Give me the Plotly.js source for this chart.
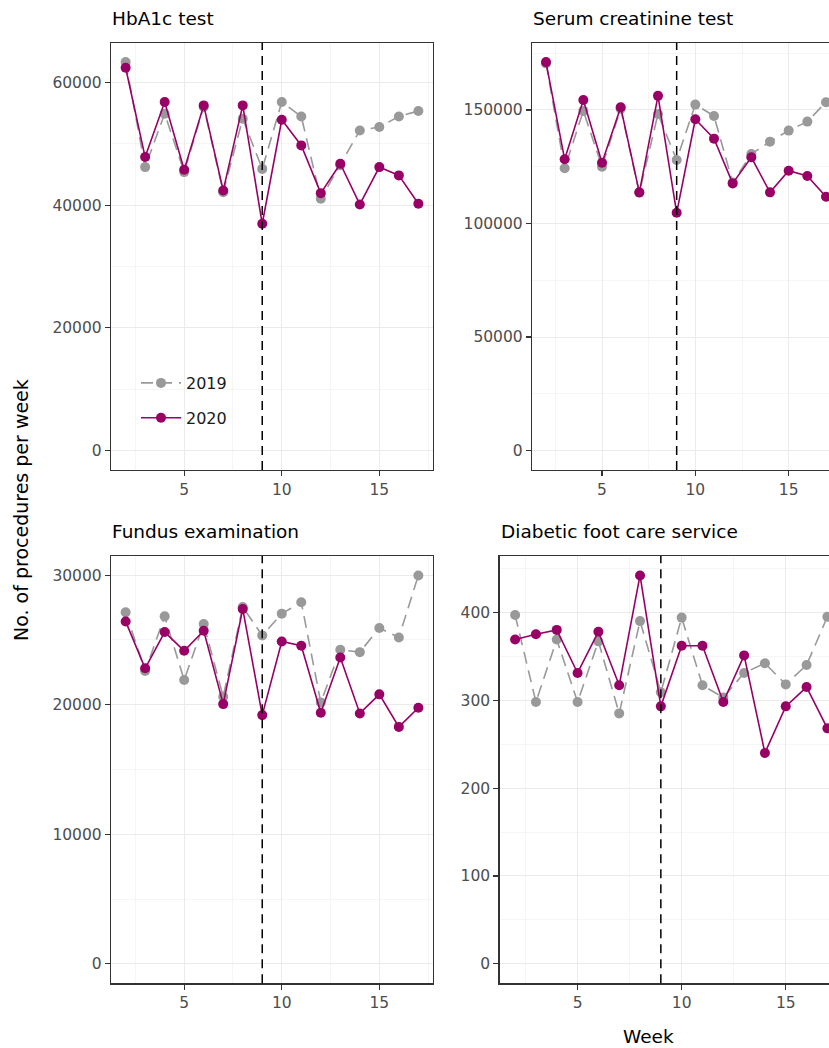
<!DOCTYPE html>
<html>
<head>
<meta charset="utf-8">
<script src="https://cdn.plot.ly/plotly-3.0.1.min.js"></script>
<style>
  html, body { margin: 0; padding: 0; overflow: hidden; background: #fff; }
  #chart { width: 900px; height: 1048px; }
</style>
</head>
<body>
<div id="chart"></div>
<script>
// ---- data ----
const weeks = [2, 3, 4, 5, 6, 7, 8, 9, 10, 11, 12, 13, 14, 15, 16, 17];
const years = ["2019", "2020"];
const panelTitles = ["HbA1c test", "Serum creatinine test", "Fundus examination", "Diabetic foot care service"];

const hba1c2019 = [63300, 46190, 54900, 45380, 56000, 42100, 54080, 45900, 56790, 54450, 41030, 46500, 52170, 52720, 54450, 55330];
const hba1c2020 = [62390, 47830, 56790, 45760, 56250, 42390, 56250, 36960, 53910, 49730, 41950, 46740, 40110, 46190, 44840, 40220];

const creat2019 = [170500, 124300, 149570, 125000, 150500, 113500, 148240, 127950, 152350, 147360, 118000, 130600, 136040, 140900, 144860, 153400];
const creat2020 = [171050, 128250, 154400, 126760, 151200, 113700, 156200, 104700, 145900, 137350, 117650, 129150, 113700, 123230, 120900, 111760];

const fundus2019 = [27130, 22610, 26820, 21910, 26230, 20620, 27540, 25350, 27030, 27910, 20180, 24240, 24060, 25920, 25190, 29980];
const fundus2020 = [26430, 22810, 25610, 24160, 25710, 20050, 27390, 19200, 24880, 24550, 19380, 23640, 19330, 20800, 18290, 19770];

const foot2019 = [397, 298, 369, 298, 367, 285, 390, 309, 394, 317, 303, 331, 342, 318, 340, 395];
const foot2020 = [369, 375, 380, 331, 378, 317, 442, 293, 362, 362, 298, 351, 240, 293, 315, 268];

const yTickStep = [20000, 50000, 10000, 100];
const cutoffWeek = 9;
const xTickLabels = [5, 10, 15];

// ---- styling / layout ----
const W = 900, H = 1048;
const FONT = "DejaVu Sans, Liberation Sans, Arial, sans-serif";
const GREY = "#999999", PURPLE = "#990066";
const TICKCOL = "#4d4d4d";

// panel pixel boxes [left, right, top, bottom]
const boxes = [
  [111, 433, 42.7, 470],
  [532, 840, 42.7, 470],
  [111, 433, 556, 983.3],
  [499.5, 843, 556, 983.3]
];

const series = [
  [hba1c2019, hba1c2020],
  [creat2019, creat2020],
  [fundus2019, fundus2020],
  [foot2019, foot2020]
];

const data = [];
const layout = {
  width: W, height: H,
  margin: {l: 0, r: 0, t: 0, b: 0},
  paper_bgcolor: "#fff", plot_bgcolor: "#fff",
  font: {family: FONT, size: 15.5, color: TICKCOL},
  showlegend: true,
  legend: {
    x: 136 / W, y: 1 - 366 / H, xanchor: "left", yanchor: "top",
    bgcolor: "rgba(255,255,255,0)", borderwidth: 0,
    font: {family: FONT, size: 16, color: "#1a1a1a"},
    itemwidth: 40, tracegroupgap: 11
  },
  shapes: [],
  annotations: []
};

const xmin = Math.min(...weeks), xmax = Math.max(...weeks);
const xpad = (xmax - xmin) * 0.05;

for (let p = 0; p < 4; p++) {
  const sfx = p === 0 ? "" : String(p + 1);
  const [l, r, t, b] = boxes[p];
  const ymax = Math.max(...series[p][0], ...series[p][1]);
  const ypad = ymax * 0.05;
  layout["xaxis" + sfx] = {
    domain: [l / W, r / W],
    anchor: "y" + sfx,
    range: [xmin - xpad, xmax + xpad],
    tickmode: "array", tickvals: xTickLabels, ticktext: xTickLabels.map(String),
    ticks: "outside", ticklen: 5, tickwidth: 1.2, tickcolor: "#333333",
    showline: true, linecolor: "#333333", linewidth: 1.2, mirror: true,
    showgrid: true, gridcolor: "#ebebeb", gridwidth: 1,
    minor: {tickmode: "array", tickvals: [2.5, 7.5, 12.5, 17.5], showgrid: true, gridcolor: "#f3f3f3", gridwidth: 0.8},
    zeroline: false,
    tickfont: {family: FONT, size: 15.5, color: TICKCOL}
  };
  layout["yaxis" + sfx] = {
    domain: [1 - b / H, 1 - t / H],
    anchor: "x" + sfx,
    range: [-ypad, ymax + ypad],
    tick0: 0, dtick: yTickStep[p], tickformat: "d",
    ticks: "outside", ticklen: 5, tickwidth: 1.2, tickcolor: "#333333",
    showline: true, linecolor: "#333333", linewidth: 1.2, mirror: true,
    showgrid: true, gridcolor: "#ebebeb", gridwidth: 1,
    minor: {dtick: yTickStep[p] / 2, showgrid: true, gridcolor: "#f3f3f3", gridwidth: 0.8},
    zeroline: false,
    tickfont: {family: FONT, size: 15.5, color: TICKCOL}
  };
  // vertical dashed cut-off line
  layout.shapes.push({
    type: "line", xref: "x" + sfx, yref: "y" + sfx + " domain",
    x0: cutoffWeek, x1: cutoffWeek, y0: 0, y1: 1,
    line: {color: "#000000", width: 1.5, dash: "9px,6px"}, layer: "above"
  });
  // panel title
  layout.annotations.push({
    text: panelTitles[p], xref: "paper", yref: "paper",
    x: (l - 1) / W, y: 1 - (t - 12) / H, xanchor: "left", yanchor: "bottom",
    showarrow: false, font: {family: FONT, size: 18.5, color: "#000000"}
  });
  // traces
  data.push({
    x: weeks, y: series[p][0], xaxis: "x" + sfx, yaxis: "y" + sfx,
    type: "scatter", mode: "lines+markers", name: years[0],
    legendgroup: "g2019", showlegend: p === 0,
    line: {color: GREY, width: 1.6, dash: "12px,7px"},
    marker: {color: GREY, size: 10}
  });
  data.push({
    x: weeks, y: series[p][1], xaxis: "x" + sfx, yaxis: "y" + sfx,
    type: "scatter", mode: "lines+markers", name: years[1],
    legendgroup: "g2020", showlegend: p === 0,
    line: {color: PURPLE, width: 1.6},
    marker: {color: PURPLE, size: 10}
  });
}

// shared axis titles
layout.annotations.push({
  text: "No. of procedures per week", xref: "paper", yref: "paper",
  x: 21 / W, y: 1 - 510 / H, xanchor: "center", yanchor: "middle",
  textangle: -90, showarrow: false, font: {family: FONT, size: 19, color: "#000000"}
});
layout.annotations.push({
  text: "Week", xref: "paper", yref: "paper",
  x: 648 / W, y: 1 - 1036 / H, xanchor: "center", yanchor: "middle",
  showarrow: false, font: {family: FONT, size: 18.5, color: "#000000"}
});

Plotly.newPlot("chart", data, layout, {staticPlot: true, displayModeBar: false});
</script>
</body>
</html>
